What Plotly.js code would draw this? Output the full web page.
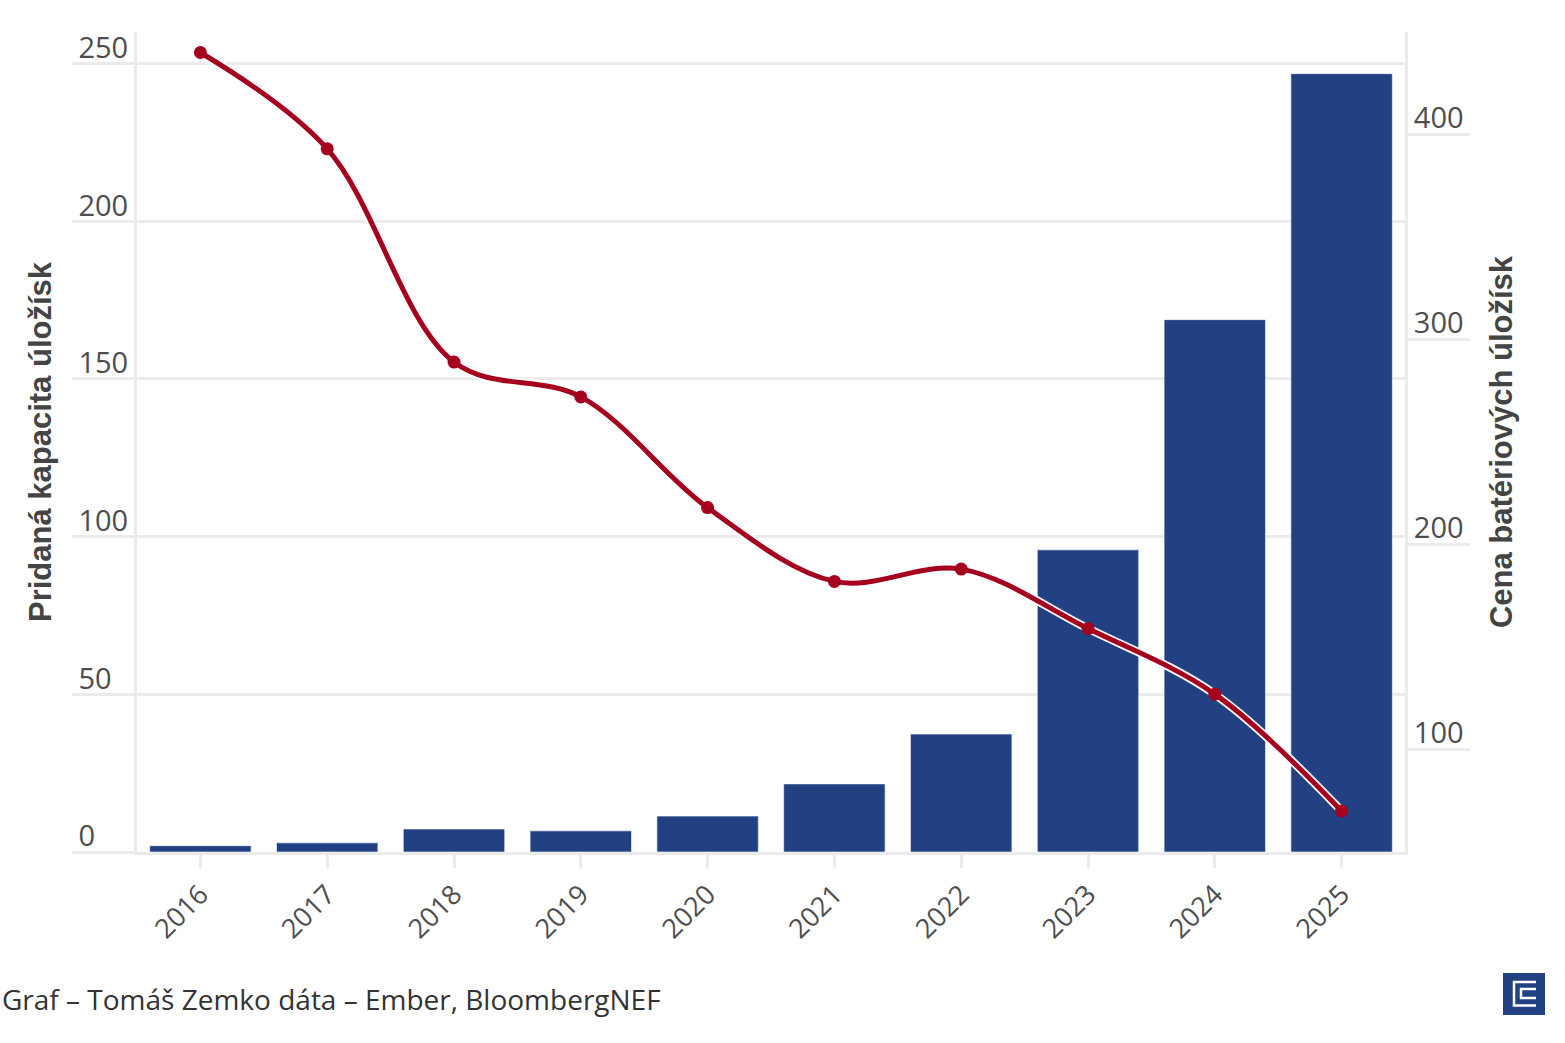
<!DOCTYPE html>
<html>
<head>
<meta charset="utf-8">
<script src="https://cdn.plot.ly/plotly-3.0.1.min.js"></script>
<style>html,body{margin:0;padding:0;background:#fff;}#chart{width:1565px;height:1043px;}</style>
</head>
<body>
<div id="chart"></div>
<script>
const years = ['2016','2017','2018','2019','2020','2021','2022','2023','2024','2025'];
const addedCapacity = [2.0, 2.9, 7.3, 6.7, 11.4, 21.6, 37.4, 95.8, 168.8, 246.8];
const storagePrice = [440, 393, 289, 272, 218, 182, 188, 159, 127, 70];
const leftTickVals = [0, 50, 100, 150, 200, 250];
const leftTickText = ['0\u2007\u2007', '50\u2007', '100', '150', '200', '250'];
const rightTickVals = [100, 200, 300, 400];
const leftTitle = 'Pridaná kapacita úložísk';
const rightTitle = 'Cena batériových úložísk';
const footerText = 'Graf – Tomáš Zemko dáta – Ember, BloombergNEF';

const grid = '#ebebeb';
const yTickFont = {family: 'Open Sans, Noto Sans, sans-serif', size: 29, color: '#4d4d4d'};
const xTickFont = {family: 'Open Sans, Noto Sans, sans-serif', size: 27, color: '#4d4d4d'};
const titleFont = {family: 'Liberation Sans, Arial, sans-serif', size: 31, color: '#444444', weight: 'bold'};

const traces = [
  {
    type: 'bar', x: years, y: addedCapacity, xaxis: 'x', yaxis: 'y',
    marker: {color: '#214183', line: {color: 'rgba(255,255,255,0.6)', width: 1}},
    hoverinfo: 'skip', showlegend: false
  },
  {
    type: 'scatter', mode: 'lines', x: years, y: storagePrice, yaxis: 'y2',
    line: {color: '#ffffff', width: 8.5, shape: 'spline', smoothing: 1},
    hoverinfo: 'skip', showlegend: false
  },
  {
    type: 'scatter', mode: 'lines+markers', x: years, y: storagePrice, yaxis: 'y2',
    line: {color: '#a6001f', width: 5, shape: 'spline', smoothing: 1},
    marker: {color: '#a6001f', size: 13},
    showlegend: false
  }
];

const layout = {
  width: 1565, height: 1043,
  margin: {l: 137, r: 160, t: 32, b: 191},
  paper_bgcolor: '#ffffff', plot_bgcolor: '#ffffff',
  bargap: 0.2,
  font: yTickFont,
  xaxis: {
    type: 'category', range: [-0.5, 9.5],
    showline: true, linecolor: grid, linewidth: 3,
    ticks: 'outside', ticklen: 13, tickwidth: 3, tickcolor: grid,
    tickangle: -45, tickfont: xTickFont, showgrid: false
  },
  yaxis: {
    range: [0, 260], showline: true, linecolor: grid, linewidth: 3,
    showgrid: true, gridcolor: grid, gridwidth: 3, zeroline: false,
    tickmode: 'array', tickvals: leftTickVals, ticktext: leftTickText,
    ticks: 'outside', ticklen: 62, tickwidth: 3, tickcolor: grid,
    ticklabelposition: 'outside top', ticklabelstandoff: 0, ticklabelshift: 6,
    tickfont: yTickFont,
    title: {text: leftTitle, font: titleFont, standoff: 18}
  },
  yaxis2: {
    range: [50, 450], overlaying: 'y', side: 'right',
    showline: true, linecolor: grid, linewidth: 3,
    showgrid: false, zeroline: false,
    tickmode: 'array', tickvals: rightTickVals,
    ticks: 'outside', ticklen: 62, tickwidth: 3, tickcolor: grid,
    ticklabelposition: 'outside top', ticklabelstandoff: 0, ticklabelshift: 5,
    tickfont: yTickFont,
    title: {text: rightTitle, font: titleFont, standoff: 28}
  },
  annotations: [
    {text: footerText, xref: 'paper', yref: 'paper', x: -0.10804, y: -0.17927,
     xanchor: 'left', yanchor: 'middle', showarrow: false,
     font: {family: 'Open Sans, Noto Sans, sans-serif', size: 28, color: '#333333'}}
  ],
  shapes: [
    {type: 'rect', xref: 'paper', yref: 'paper', xsizemode: 'pixel', ysizemode: 'pixel',
     xanchor: 1.07729, yanchor: -0.19878, x0: 0, x1: 42, y0: 0, y1: 42,
     fillcolor: '#214183', line: {width: 0}},
    {type: 'path', xref: 'paper', yref: 'paper', xsizemode: 'pixel', ysizemode: 'pixel',
     xanchor: 1.07729, yanchor: -0.19878,
     path: 'M33,33 L11,33 L11,9.5 L33,9.5 M33,26 L18,26 L18,17 L33,17',
     line: {color: '#ffffff', width: 2.5}}
  ]
};

Plotly.newPlot('chart', traces, layout, {displayModeBar: false, staticPlot: true});
</script>
</body>
</html>
